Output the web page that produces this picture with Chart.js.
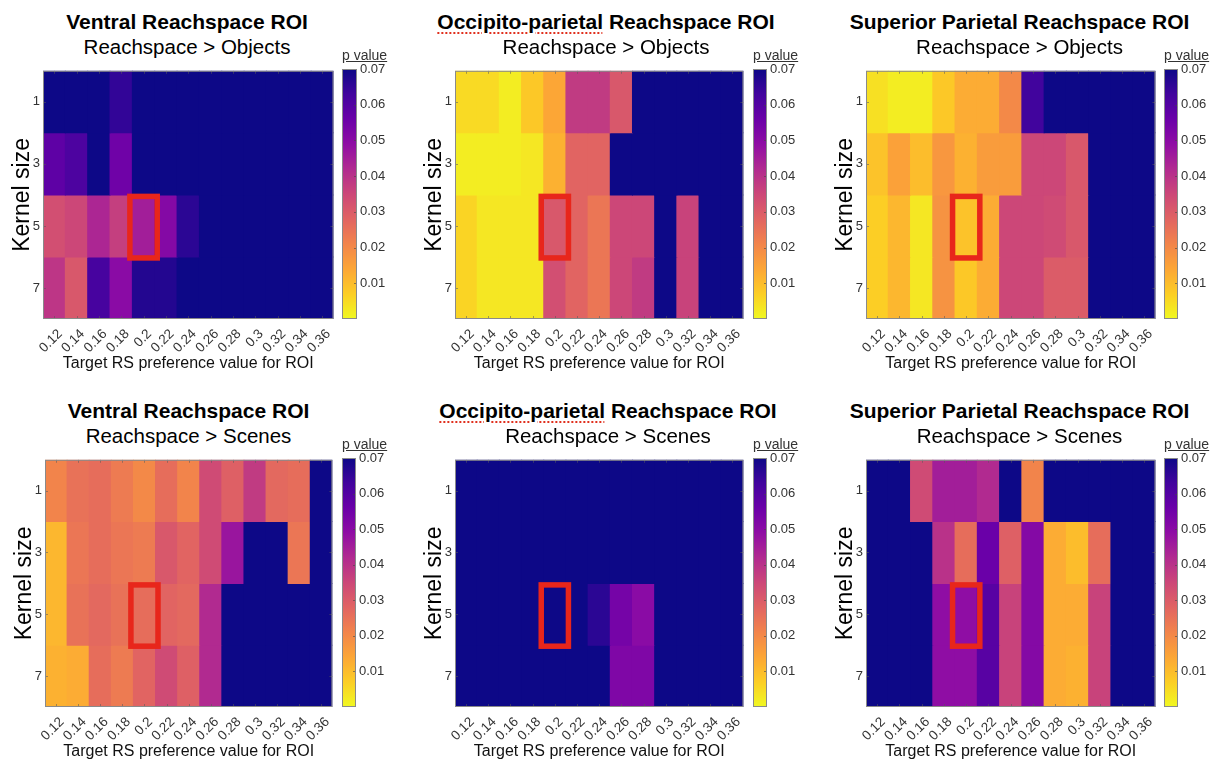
<!DOCTYPE html>
<html>
<head>
<meta charset="utf-8">
<script src="https://cdn.jsdelivr.net/npm/chart.js@4.4.0/dist/chart.umd.min.js"></script>
<style>
  body { margin: 0; background: #fff; font-family: "Liberation Sans", Arial, sans-serif; }
  #fig { position: relative; width: 1212px; height: 762px; overflow: hidden; }
  canvas { position: absolute; }
  .title, .sub { position: absolute; white-space: nowrap; transform: translateX(-50%); line-height: 1; color: #000; }
  .title { font-weight: bold; font-size: 21px; }
  .sub { font-size: 20.5px; }
  .pval { position: absolute; font-size: 14px; line-height: 1; color: #333; text-decoration: underline; white-space: nowrap; }
  .spell { text-decoration: underline dotted #e0301e; text-decoration-thickness: 2px; text-underline-offset: 3px; }
</style>
</head>
<body>
<div id="fig"></div>
<script>
const rsValues = ['0.12', '0.14', '0.16', '0.18', '0.2', '0.22', '0.24', '0.26', '0.28', '0.3', '0.32', '0.34', '0.36'];
const kernelSizes = [1, 3, 5, 7];
const pMax = 0.07;
const N = pMax; // cells at or above the colour limit

const roiNames = ['Ventral Reachspace ROI', 'Occipito-parietal Reachspace ROI', 'Superior Parietal Reachspace ROI'];
const contrastNames = ['Reachspace > Objects', 'Reachspace > Scenes'];
const highlightRS = '0.2';
const highlightKernel = 5;

// p values, one row per kernel size (1, 3, 5, 7), one column per RS value
const ventralObjects = [
  [N, N, N, 0.065, N, N, N, N, N, N, N, N, N],
  [0.058, 0.061, N, 0.055, N, N, N, N, N, N, N, N, N],
  [0.033, 0.035, 0.043, 0.037, 0.045, 0.051, 0.066, N, N, N, N, N, N],
  [0.039, 0.031, 0.062, 0.05, 0.067, 0.067, N, N, N, N, N, N, N]
];
const occipObjects = [
  [0.005, 0.005, 0.002, 0.008, 0.014, 0.038, 0.038, 0.031, N, N, N, N, N],
  [0.002, 0.002, 0.002, 0.003, 0.012, 0.028, 0.028, N, N, N, N, N, N],
  [0.006, 0.003, 0.003, 0.003, 0.031, 0.028, 0.024, 0.035, 0.035, N, 0.036, N, N],
  [0.006, 0.003, 0.003, 0.003, 0.033, 0.028, 0.024, 0.035, 0.038, N, 0.036, N, N]
];
const supObjects = [
  [0.004, 0.002, 0.002, 0.008, 0.013, 0.013, 0.02, 0.063, N, N, N, N, N],
  [0.009, 0.015, 0.01, 0.017, 0.012, 0.016, 0.016, 0.035, 0.035, 0.031, N, N, N],
  [0.007, 0.011, 0.003, 0.018, 0.009, 0.013, 0.035, 0.035, 0.034, 0.031, N, N, N],
  [0.007, 0.011, 0.003, 0.018, 0.008, 0.013, 0.035, 0.035, 0.03, 0.03, N, N, N]
];
const ventralScenes = [
  [0.021, 0.025, 0.026, 0.023, 0.02, 0.026, 0.021, 0.034, 0.029, 0.038, 0.027, 0.026, N],
  [0.011, 0.024, 0.026, 0.024, 0.023, 0.031, 0.028, 0.034, 0.047, N, N, 0.024, N],
  [0.011, 0.025, 0.027, 0.025, 0.026, 0.028, 0.027, 0.042, N, N, N, N, N],
  [0.012, 0.013, 0.026, 0.023, 0.028, 0.034, 0.029, 0.042, N, N, N, N, N]
];
const occipScenes = [
  [N, N, N, N, N, N, N, N, N, N, N, N, N],
  [N, N, N, N, N, N, N, N, N, N, N, N, N],
  [N, N, N, N, N, N, 0.066, 0.054, 0.05, N, N, N, N],
  [N, N, N, N, N, N, N, 0.052, 0.052, N, N, N, N]
];
const supScenes = [
  [N, N, 0.034, 0.045, 0.045, 0.042, N, 0.021, N, N, N, N, N],
  [N, N, N, 0.04, 0.026, 0.056, 0.029, 0.051, 0.013, 0.01, 0.026, N, N],
  [N, N, N, 0.049, 0.049, 0.059, 0.036, 0.051, 0.013, 0.013, 0.036, N, N],
  [N, N, N, 0.049, 0.049, 0.059, 0.036, 0.051, 0.013, 0.012, 0.036, N, N]
];

// where each panel sits on the page: plot box [left, top, right, bottom], colour bar [left, right],
// and a small horizontal nudge for the titles
const panels = [
  { roi: 0, contrast: 0, p: ventralObjects, plot: [43, 69, 335, 319], bar: [342, 357], dx: -2 },
  { roi: 1, contrast: 0, p: occipObjects, plot: [455, 69, 745, 319], bar: [753, 767], dx: 6 },
  { roi: 2, contrast: 0, p: supObjects, plot: [866, 69, 1157, 319], bar: [1164, 1178], dx: 8 },
  { roi: 0, contrast: 1, p: ventralScenes, plot: [45, 458, 334, 707], bar: [342, 356], dx: -1 },
  { roi: 1, contrast: 1, p: occipScenes, plot: [455, 458, 745, 707], bar: [753, 767], dx: 8 },
  { roi: 2, contrast: 1, p: supScenes, plot: [866, 458, 1157, 707], bar: [1164, 1178], dx: 8 }
];

// plasma, reversed so that small p is yellow
const plasma = ['#0d0887', '#41049d', '#6a00a8', '#8f0da4', '#b12a90', '#cc4778',
  '#e16462', '#f2844b', '#fca636', '#fcce25', '#f0f921'];

function hexToRgb(h) {
  return [parseInt(h.slice(1, 3), 16), parseInt(h.slice(3, 5), 16), parseInt(h.slice(5, 7), 16)];
}

function pColor(p) {
  const t = 1 - Math.min(Math.max(p, 0), pMax) / pMax;
  const f = t * (plasma.length - 1);
  const i = Math.min(Math.floor(f), plasma.length - 2);
  const a = hexToRgb(plasma[i]), b = hexToRgb(plasma[i + 1]);
  const u = f - i;
  const c = a.map((v, k) => Math.round(v + (b[k] - v) * u));
  return 'rgb(' + c.join(',') + ')';
}

const fig = document.getElementById('fig');
const FONT = '"Liberation Sans", Arial, sans-serif';
Chart.defaults.font.family = FONT;
Chart.defaults.color = '#333';

function addCanvas(left, top, w, h) {
  const c = document.createElement('canvas');
  c.width = w;
  c.height = h;
  c.style.left = left + 'px';
  c.style.top = top + 'px';
  fig.appendChild(c);
  return c;
}

function addText(cls, html, left, top) {
  const d = document.createElement('div');
  d.className = cls;
  d.innerHTML = html;
  d.style.left = left + 'px';
  d.style.top = top + 'px';
  fig.appendChild(d);
}

const framePlugin = {
  id: 'frame',
  afterDatasetsDraw(chart) {
    const { ctx, chartArea: a, scales: { x, y } } = chart;
    ctx.save();
    // small inward tick marks, matlab style
    ctx.strokeStyle = 'rgba(90,90,90,0.55)';
    ctx.lineWidth = 1;
    ctx.beginPath();
    rsValues.forEach((v, i) => {
      const px = Math.round(x.getPixelForValue(i)) + 0.5;
      ctx.moveTo(px, a.top); ctx.lineTo(px, a.top + 3);
      ctx.moveTo(px, a.bottom); ctx.lineTo(px, a.bottom - 3);
    });
    kernelSizes.forEach((k, r) => {
      const py = Math.round(y.getPixelForValue(r + 0.5)) + 0.5;
      ctx.moveTo(a.left, py); ctx.lineTo(a.left + 3, py);
      ctx.moveTo(a.right, py); ctx.lineTo(a.right - 3, py);
    });
    ctx.stroke();
    ctx.strokeStyle = '#8a8a8a';
    ctx.strokeRect(a.left + 0.5, a.top + 0.5, a.right - a.left - 1, a.bottom - a.top - 1);

    // highlighted cell
    const ci = rsValues.indexOf(highlightRS);
    const ri = kernelSizes.indexOf(highlightKernel);
    const half = (a.right - a.left) / rsValues.length / 2;
    const cx = x.getPixelForValue(ci);
    const y0 = y.getPixelForValue(ri), y1 = y.getPixelForValue(ri + 1);
    ctx.strokeStyle = '#e8261b';
    ctx.lineWidth = 5.5;
    ctx.strokeRect(cx - half - 2.5, y0 + 1.5, 2 * half + 5, y1 - y0 - 0.5);
    ctx.restore();
  }
};

const barFramePlugin = {
  id: 'barFrame',
  afterDatasetsDraw(chart) {
    const { ctx, chartArea: a, scales: { y } } = chart;
    ctx.save();
    ctx.strokeStyle = 'rgba(70,70,70,0.6)';
    ctx.lineWidth = 1;
    ctx.beginPath();
    y.ticks.forEach(t => {
      if (t.value <= 0 || t.value >= pMax) return;
      const py = Math.round(y.getPixelForValue(t.value)) + 0.5;
      ctx.moveTo(a.right, py); ctx.lineTo(a.right - 3, py);
    });
    ctx.stroke();
    ctx.strokeStyle = '#8a8a8a';
    ctx.strokeRect(a.left + 0.5, a.top + 0.5, a.right - a.left - 1, a.bottom - a.top - 1);
    ctx.restore();
  }
};

function drawHeatmap(panel) {
  const [pl, pt, pr, pb] = panel.plot;
  const yAxisW = 43, xAxisH = 60, padTop = 9, padRight = 6;
  const left = pl - yAxisW, top = pt - padTop;
  const canvas = addCanvas(left, top, pr - left + padRight, pb - top + xAxisH);

  const datasets = kernelSizes.map((k, r) => ({
    label: 'Kernel ' + k,
    data: rsValues.map(() => [r, r + 1]),
    backgroundColor: panel.p[r].map(pColor),
    borderWidth: 0,
    barPercentage: 1,
    categoryPercentage: 1,
    grouped: false,
    inflateAmount: 0.5
  }));

  new Chart(canvas, {
    type: 'bar',
    data: { labels: rsValues, datasets },
    options: {
      responsive: false,
      animation: false,
      events: [],
      layout: { padding: { top: padTop, right: padRight, left: 0, bottom: 0 } },
      plugins: { legend: { display: false }, tooltip: { enabled: false } },
      scales: {
        x: {
          type: 'category',
          grid: { display: false, drawTicks: false },
          border: { display: false },
          ticks: { autoSkip: false, minRotation: 45, maxRotation: 45, padding: 7, labelOffset: 6, font: { size: 13.5 }, color: '#333' },
          title: { display: true, text: 'Target RS preference value for ROI', font: { size: 16 }, color: '#111', padding: { top: 0, bottom: 6 } },
          afterFit: s => { s.height = xAxisH; }
        },
        y: {
          type: 'linear',
          min: 0,
          max: kernelSizes.length,
          reverse: true,
          grid: { display: false, drawTicks: false },
          border: { display: false },
          afterBuildTicks: s => { s.ticks = kernelSizes.map((k, r) => ({ value: r + 0.5 })); },
          ticks: { callback: (v, i) => kernelSizes[i], padding: 3, font: { size: 13 }, color: '#333' },
          title: { display: true, text: 'Kernel size', font: { size: 23 }, color: '#000', padding: { top: 9, bottom: 0 } },
          afterFit: s => { s.width = yAxisW; }
        }
      }
    },
    plugins: [framePlugin]
  });
}

function drawColorbar(panel) {
  const [bl, br] = panel.bar;
  const pt = panel.plot[1], pb = panel.plot[3];
  const padL = 4, padV = 12, axisW = 36;
  const canvas = addCanvas(bl - padL, pt - padV, br - bl + padL + axisW, pb - pt + 2 * padV);

  new Chart(canvas, {
    type: 'bar',
    data: {
      labels: ['p value'],
      datasets: [{
        data: [[0, pMax]],
        backgroundColor: ctx => {
          const area = ctx.chart.chartArea;
          if (!area) return plasma[0];
          const g = ctx.chart.ctx.createLinearGradient(0, area.bottom, 0, area.top);
          plasma.forEach((c, i) => g.addColorStop(i / (plasma.length - 1), plasma[plasma.length - 1 - i]));
          return g;
        },
        borderWidth: 0,
        barPercentage: 1,
        categoryPercentage: 1
      }]
    },
    options: {
      responsive: false,
      animation: false,
      events: [],
      layout: { padding: { left: padL, top: padV, bottom: padV, right: 0 } },
      plugins: { legend: { display: false }, tooltip: { enabled: false } },
      scales: {
        x: { display: false },
        y: {
          position: 'right',
          min: 0,
          max: pMax,
          grid: { display: false, drawTicks: false },
          border: { display: false },
          ticks: { stepSize: 0.01, padding: 3, font: { size: 13 }, color: '#333', callback: v => v > 0 ? v.toFixed(2) : '' },
          afterFit: s => { s.width = axisW; }
        }
      }
    },
    plugins: [barFramePlugin]
  });

  addText('pval', 'p value', bl, pt - 21);
}

panels.forEach(panel => {
  const [pl, pt, pr] = panel.plot;
  const cx = (pl + pr) / 2 + panel.dx;
  let name = roiNames[panel.roi];
  if (name.startsWith('Occipito-parietal')) {
    name = '<span class="spell">Occipito-parietal</span>' + name.slice('Occipito-parietal'.length);
  }
  addText('title', name, cx, pt - 58);
  addText('sub', contrastNames[panel.contrast], cx, pt - 32);
  drawHeatmap(panel);
  drawColorbar(panel);
});
</script>
</body>
</html>
